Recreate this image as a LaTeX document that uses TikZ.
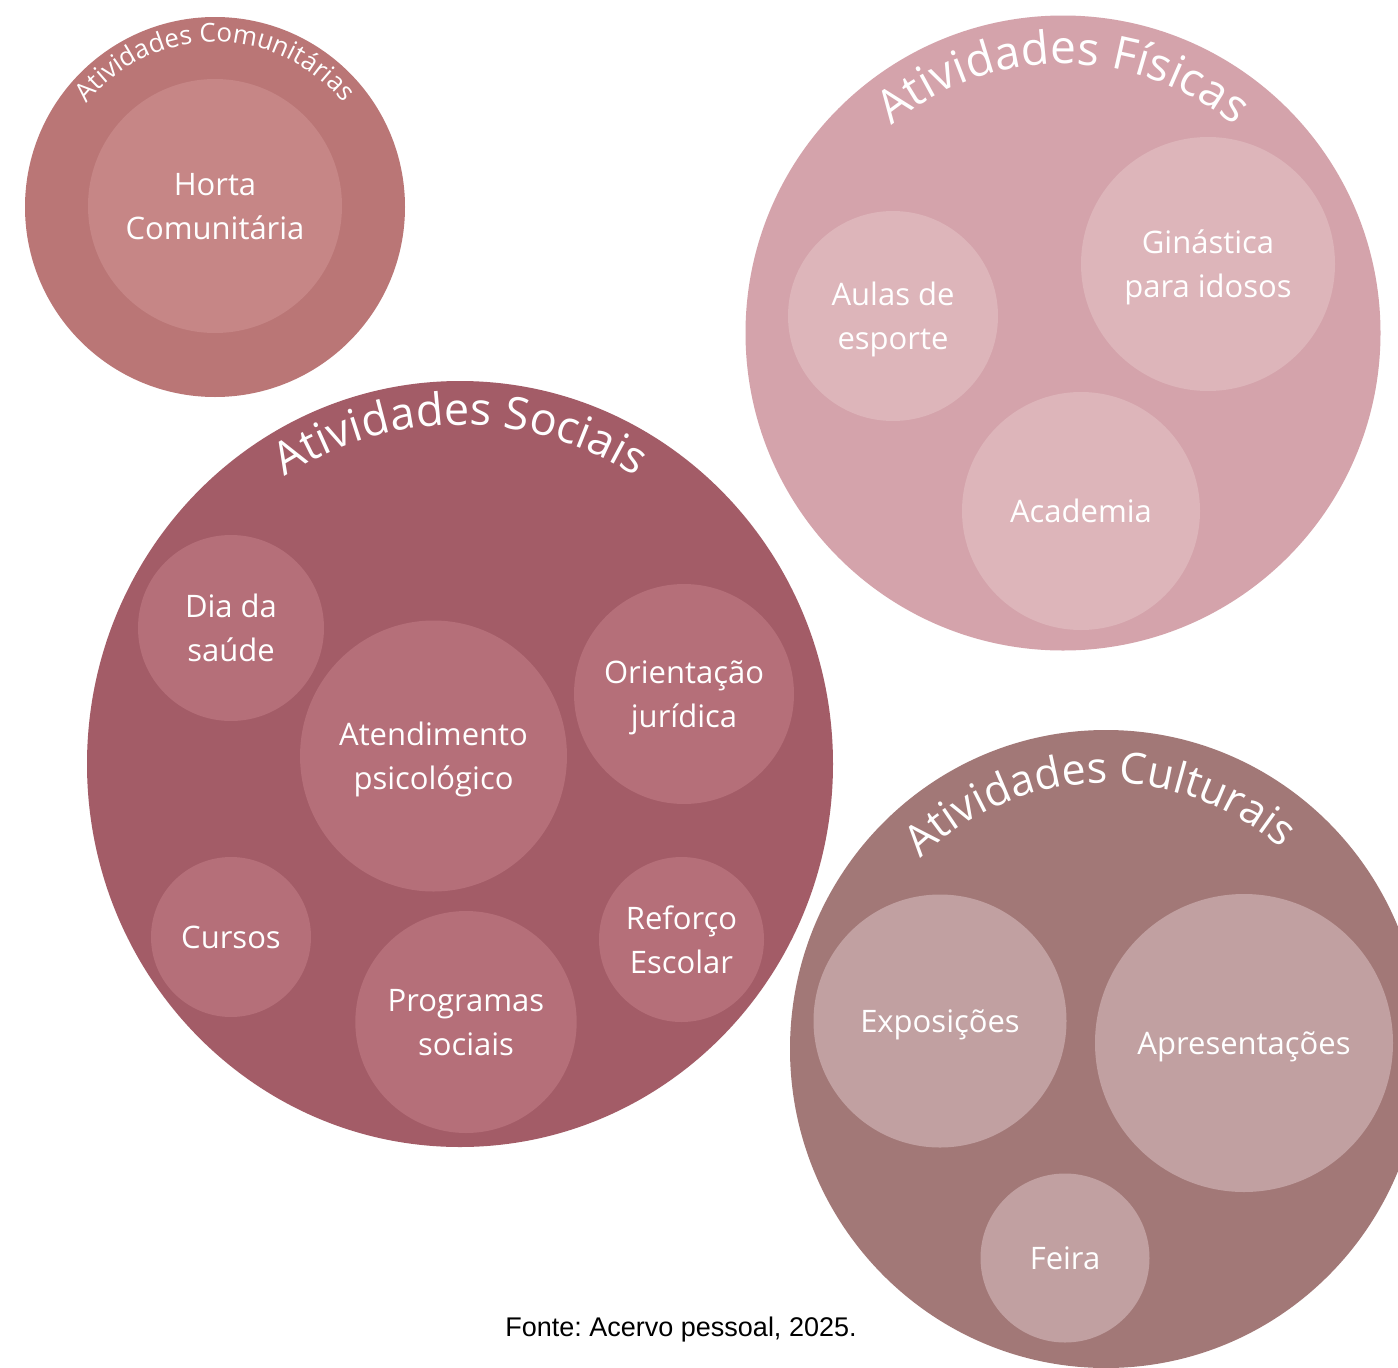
\documentclass[tikz,border=0pt]{standalone}
\usepackage{fontspec}
\setmainfont{Open Sans}
\newfontfamily\capfont{Liberation Sans}
\usetikzlibrary{decorations.text,shapes.geometric}
\definecolor{comOut}{HTML}{BA7676}
\definecolor{comIn}{HTML}{C68686}
\definecolor{fisOut}{HTML}{D4A3AB}
\definecolor{fisIn}{HTML}{DDB5BA}
\definecolor{socOut}{HTML}{A35C67}
\definecolor{socIn}{HTML}{B56F79}
\definecolor{culOut}{HTML}{A27877}
\definecolor{culIn}{HTML}{C1A0A1}
\tikzset{
  bubble/.style={circle, draw=none, inner sep=0pt, minimum size=#1},
  ebubble/.style 2 args={ellipse, draw=none, inner sep=0pt, minimum width=#1, minimum height=#2},
  lbl/.style={text=white, align=center, font=\fontsize{31}{44}\selectfont, text depth=0pt},
  arctitle/.style 2 args={decorate, decoration={text along path, text align=center, text color=white,
      text={|\fontsize{#1}{#1}\selectfont|#2}}}
}
\begin{document}
\frenchspacing
\begin{tikzpicture}[x=1pt,y=1pt]
\useasboundingbox (0,0) rectangle (1398,-1368);
\clip (0,0) rectangle (1398,-1368);
\fill[white] (0,0) rectangle (1398,-1368);

% Atividades Comunitarias
\node[bubble=380, fill=comOut] (com) at (215,-207) {};
\node[bubble=254, fill=comIn, lbl] (horta) at (215,-206) {Horta\\Comunitária};
\path[arctitle={26}{Atividades Comunitárias}] ([shift={(180:165)}]com.center) arc[start angle=180, end angle=0, radius=165];

% Atividades Fisicas
\node[bubble=635, fill=fisOut] (fis) at (1063,-333) {};
\node[bubble=254, fill=fisIn, lbl] (gin) at (1208,-264) {Ginástica\\para idosos};
\node[bubble=210, fill=fisIn, lbl] (aulas) at (893,-316) {Aulas de\\esporte};
\node[bubble=238, fill=fisIn, lbl] (acad) at (1081,-511) {Academia};
\path[arctitle={46}{Atividades Físicas}] ([shift={(180:269)}]fis.center) arc[start angle=180, end angle=0, radius=269];

% Atividades Sociais
\node[ebubble={746}{766}, fill=socOut] (soc) at (460,-764) {};
\node[bubble=186, fill=socIn, lbl] (dia) at (231,-628) {Dia da\\saúde};
\node[ebubble={263}{271}, fill=socIn, lbl] (atend) at (433.5,-756) {Atendimento\\psicológico};
\node[bubble=220, fill=socIn, lbl] (orient) at (684,-694) {Orientação\\jurídica};
\node[bubble=160, fill=socIn, lbl] (cursos) at (231,-937) {Cursos};
\node[ebubble={215}{222}, fill=socIn, lbl] (prog) at (466,-1022) {Programas\\sociais};
\node[bubble=165, fill=socIn, lbl] (ref) at (681.5,-939.5) {Reforço\\Escolar};
\path[arctitle={45}{Atividades Sociais}] ([shift={(180:330)}]soc.center) arc[start angle=180, end angle=0, x radius=330, y radius=339];

% Atividades Culturais
\node[ebubble={632}{638}, fill=culOut] (cul) at (1106,-1049) {};
\node[bubble=253, fill=culIn, lbl] (expo) at (940,-1021) {Exposições};
\node[bubble=298, fill=culIn, lbl] (apres) at (1244,-1043) {Apresentações};
\node[bubble=169, fill=culIn, lbl] (feira) at (1065,-1258) {Feira};
\path[arctitle={43}{Atividades Culturais}] ([shift={(181.5:266)}]cul.center) arc[start angle=181.5, end angle=1.5, radius=266];

% Fonte
\node[anchor=base, font=\capfont\fontsize{27}{30}\selectfont, text=black, inner sep=0pt] (fonte) at (681,-1336) {Fonte: Acervo pessoal, 2025.};
\end{tikzpicture}
\end{document}
